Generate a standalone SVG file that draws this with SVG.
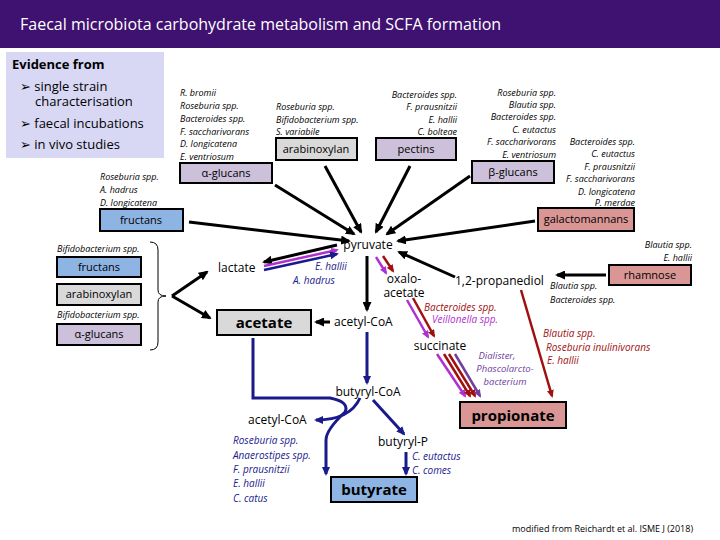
<svg xmlns="http://www.w3.org/2000/svg" width="720" height="540" viewBox="0 0 720 540">
<defs>
<marker id="ak" markerWidth="10" markerHeight="9" refX="8" refY="4.5" orient="auto" markerUnits="userSpaceOnUse"><path d="M0,0L10,4.5L0,9z" fill="#000"/></marker>
<marker id="an" markerWidth="9" markerHeight="8" refX="7" refY="4" orient="auto" markerUnits="userSpaceOnUse"><path d="M0,0L9,4L0,8z" fill="#1a1a8c"/></marker>
<marker id="ar" markerWidth="8" markerHeight="7" refX="6" refY="3.5" orient="auto" markerUnits="userSpaceOnUse"><path d="M0,0L8,3.5L0,7z" fill="#a01010"/></marker>
<marker id="ap" markerWidth="8" markerHeight="7" refX="6" refY="3.5" orient="auto" markerUnits="userSpaceOnUse"><path d="M0,0L8,3.5L0,7z" fill="#b030d0"/></marker>
<marker id="av" markerWidth="8" markerHeight="7" refX="6" refY="3.5" orient="auto" markerUnits="userSpaceOnUse"><path d="M0,0L8,3.5L0,7z" fill="#7040a0"/></marker>
</defs>
<style>
text{font-family:"Open Sans","DejaVu Sans",sans-serif;}
.sp{font-size:9px;font-style:italic;fill:#000}
.lav{fill:#ccc0da;stroke:#000;stroke-width:2}
.gry{fill:#d9d9d9;stroke:#000;stroke-width:2}
.blu{fill:#8eb4e3;stroke:#000;stroke-width:2}
.pnk{fill:#d99694;stroke:#000;stroke-width:2}
.bl{font-size:11px;text-anchor:middle}
.k{stroke:#000;stroke-width:3;fill:none;marker-end:url(#ak)}
.n{stroke:#1a1a8c;stroke-width:3;fill:none}
.r{stroke:#a01010;stroke-width:2.5;fill:none;marker-end:url(#ar)}
.p{stroke:#b030d0;stroke-width:2.5;fill:none;marker-end:url(#ap)}
.m{font-size:12px;fill:#000}
</style>
<rect x="0" y="0" width="720" height="48" fill="#3f1170"/>
<text x="20" y="30" font-size="16" fill="#fff">Faecal microbiota carbohydrate metabolism and SCFA formation</text>
<g id="evidence">
<rect x="6" y="52" width="158" height="106" fill="#d8d8f5"/>
<text x="12" y="69" font-size="13" font-weight="bold">Evidence from</text>
<text x="20" y="91" font-size="13">➢ single strain</text>
<text x="35" y="106" font-size="13">characterisation</text>
<text x="20" y="128" font-size="13">➢ faecal incubations</text>
<text x="20" y="149" font-size="13">➢ in vivo studies</text>
</g>
<g id="alpha-top"><rect class="lav" x="180" y="163" width="92" height="20"/><text class="bl" x="226" y="177">α-glucans</text>
<text class="sp" x="180" y="96">R. bromii</text><text class="sp" x="180" y="109">Roseburia spp.</text><text class="sp" x="180" y="122">Bacteroides spp.</text><text class="sp" x="180" y="135">F. saccharivorans</text><text class="sp" x="180" y="147">D. longicatena</text><text class="sp" x="180" y="160">E. ventriosum</text></g>
<g id="arabinoxylan-top"><rect class="gry" x="276" y="138" width="81" height="22"/><text class="bl" x="316" y="153">arabinoxylan</text>
<text class="sp" x="276" y="110">Roseburia spp.</text><text class="sp" x="276" y="123">Bifidobacterium spp.</text><text class="sp" x="276" y="135">S. variabile</text></g>
<g id="pectins"><rect class="lav" x="376" y="138" width="80" height="22"/><text class="bl" x="416" y="153">pectins</text>
<g text-anchor="end"><text class="sp" x="457" y="98">Bacteroides spp.</text><text class="sp" x="457" y="110">F. prausnitzii</text><text class="sp" x="457" y="123">E. hallii</text><text class="sp" x="457" y="135">C. bolteae</text></g></g>
<g id="beta"><rect class="lav" x="472" y="161" width="82" height="22"/><text class="bl" x="513" y="176">β-glucans</text>
<g text-anchor="end"><text class="sp" x="556" y="96">Roseburia spp.</text><text class="sp" x="556" y="108">Blautia spp.</text><text class="sp" x="556" y="120">Bacteroides spp.</text><text class="sp" x="556" y="133" fill="#555">C. eutactus</text><text class="sp" x="556" y="145">F. saccharivorans</text><text class="sp" x="556" y="158">E. ventriosum</text></g></g>
<g id="galacto"><rect class="pnk" x="538" y="208" width="96" height="23"/><text class="bl" x="586" y="223">galactomannans</text>
<g text-anchor="end"><text class="sp" x="635" y="145">Bacteroides spp.</text><text class="sp" x="635" y="157" fill="#555">C. eutactus</text><text class="sp" x="635" y="170">F. prausnitzii</text><text class="sp" x="635" y="182">F. saccharivorans</text><text class="sp" x="635" y="195">D. longicatena</text><text class="sp" x="635" y="206">P. merdae</text></g></g>
<g id="fructans-top"><rect class="blu" x="100" y="209" width="83" height="22"/><text class="bl" x="141" y="224">fructans</text>
<text class="sp" x="100" y="180">Roseburia spp.</text><text class="sp" x="100" y="193">A. hadrus</text><text class="sp" x="100" y="206">D. longicatena</text></g>
<g id="left-group">
<text class="sp" x="57" y="252">Bifidobacterium spp.</text>
<rect class="blu" x="57" y="257" width="84" height="20"/><text class="bl" x="99" y="271">fructans</text>
<rect class="gry" x="57" y="284" width="84" height="21"/><text class="bl" x="99" y="298">arabinoxylan</text>
<text class="sp" x="57" y="318" fill="#555">Bifidobacterium spp.</text>
<rect class="lav" x="57" y="324" width="84" height="21"/><text class="bl" x="99" y="338">α-glucans</text>
<path d="M150,242 Q158,242 158,250 L158,290 Q158,296 166,296 Q158,296 158,302 L158,342 Q158,350 150,350" stroke="#000" stroke-width="1" fill="none"/>
</g>
<g id="rhamnose"><rect class="pnk" x="609" y="265" width="82" height="20"/><text class="bl" x="650" y="279">rhamnose</text>
<g text-anchor="end"><text class="sp" x="692" y="248">Blautia spp.</text><text class="sp" x="692" y="261">E. hallii</text></g>
<text class="sp" x="550" y="289" font-size="10">Blautia spp.</text><text class="sp" x="550" y="303" font-size="10">Bacteroides spp.</text></g>
<g id="acetate"><rect class="gry" x="217" y="310" width="94" height="25" stroke-width="3"/><text x="264" y="328" font-size="15" font-weight="bold" text-anchor="middle">acetate</text></g>
<g id="propionate"><rect class="pnk" x="460" y="402" width="106" height="26" stroke-width="3"/><text x="513" y="421" font-size="15" font-weight="bold" text-anchor="middle">propionate</text></g>
<g id="butyrate"><rect class="blu" x="331" y="477" width="86" height="25" stroke-width="3"/><text x="374" y="495" font-size="15" font-weight="bold" text-anchor="middle">butyrate</text></g>
<g id="metabolites">
<text class="m" x="368" y="249" text-anchor="middle">pyruvate</text>
<text class="m" x="218" y="272">lactate</text>
<text class="m" x="455" y="285">1,2-propanediol</text>
<text class="m" x="334" y="326">acetyl-CoA</text>
<text class="m" x="404" y="283" text-anchor="middle" fill="#a01010">oxalo-</text>
<text class="m" x="404" y="297" text-anchor="middle" fill="#a01010">acetate</text>
<text class="m" x="440" y="350" text-anchor="middle" fill="#a01010">succinate</text>
<text class="m" x="368" y="396" text-anchor="middle" fill="#1a1a8c">butyryl-CoA</text>
<text class="m" x="248" y="424">acetyl-CoA</text>
<text class="m" x="378" y="446" fill="#1a1a8c">butyryl-P</text>
</g>
<g id="labels" font-size="10" font-style="italic">
<text x="315" y="270" fill="#1a1a8c">E. hallii</text><text x="293" y="284" fill="#1a1a8c">A. hadrus</text>
<text x="424" y="311" fill="#a01010">Bacteroides spp.</text><text x="432" y="323" fill="#b030d0">Veillonella spp.</text>
<g text-anchor="middle" fill="#7040a0" font-size="9.5"><text x="497" y="359">Dialister,</text><text x="505" y="372">Phascolarcto-</text><text x="505" y="385">bacterium</text></g>
<text x="543" y="337" fill="#a01010">Blautia spp.</text><text x="546" y="351" fill="#a01010">Roseburia inulinivorans</text><text x="547" y="364" fill="#a01010">E. hallii</text>
<g fill="#1a1a8c"><text x="233" y="444">Roseburia spp.</text><text x="233" y="459">Anaerostipes spp.</text><text x="233" y="473">F. prausnitzii</text><text x="233" y="487">E. hallii</text><text x="233" y="502">C. catus</text>
<text x="412" y="460">C. eutactus</text><text x="412" y="474">C. comes</text></g>
</g>
<g id="connectors">
<path class="k" d="M275,185 L354,234"/>
<path class="k" d="M325,166 L361,232"/>
<path class="k" d="M410,166 L376,232"/>
<path class="k" d="M470,176 L387,234"/>
<path class="k" d="M535,221 L398,241"/>
<path class="k" d="M189,222 L349,241"/>
<path class="k" d="M172,296 L207,272"/>
<path class="k" d="M172,296 L210,318"/>
<path class="k" d="M455,277 L399,252"/>
<path class="k" d="M606,275 L557,275"/>
<path class="k" d="M367,256 L367,310"/>
<path class="k" d="M330,322 L316,322"/>
<path class="k" d="M337,245 L264,262" stroke-width="2"/>
<path d="M264,266 L337,250" stroke="#b030d0" stroke-width="2.5" fill="none" marker-end="url(#ap)"/>
<path d="M264,270 L337,254" stroke="#1a1a8c" stroke-width="2.5" fill="none" marker-end="url(#an)"/>
<path class="p" d="M376,257 L386,273"/>
<path class="r" d="M383,256 L393,271"/>
<path class="p" d="M407,300 L428,337"/>
<path class="r" d="M413,298 L434,336"/>
<path class="p" d="M437,354 L465,396"/>
<path class="r" d="M444,354 L470,396"/>
<path class="r" d="M449,354 L475,396"/>
<path d="M455,354 L480,396" stroke="#7040a0" stroke-width="2.5" fill="none" marker-end="url(#av)"/>
<path class="r" d="M521,290 L552,396"/>
<path class="n" d="M367,332 L367,383" marker-end="url(#an)"/>
<path class="n" d="M253,338 L253,398 L330,398 Q350,402 345,412 Q326,430 326,440 L326,474" marker-end="url(#an)"/>
<path class="n" d="M360,398 Q350,420 316,420" marker-end="url(#an)"/>
<path class="n" d="M373,400 L404,434" marker-end="url(#an)"/>
<path class="n" d="M406,452 L406,474" stroke-width="2" marker-end="url(#an)"/>
</g>
<text x="512" y="532" font-size="9" fill="#000">modified from Reichardt et al. ISME J (2018)</text>
</svg>
